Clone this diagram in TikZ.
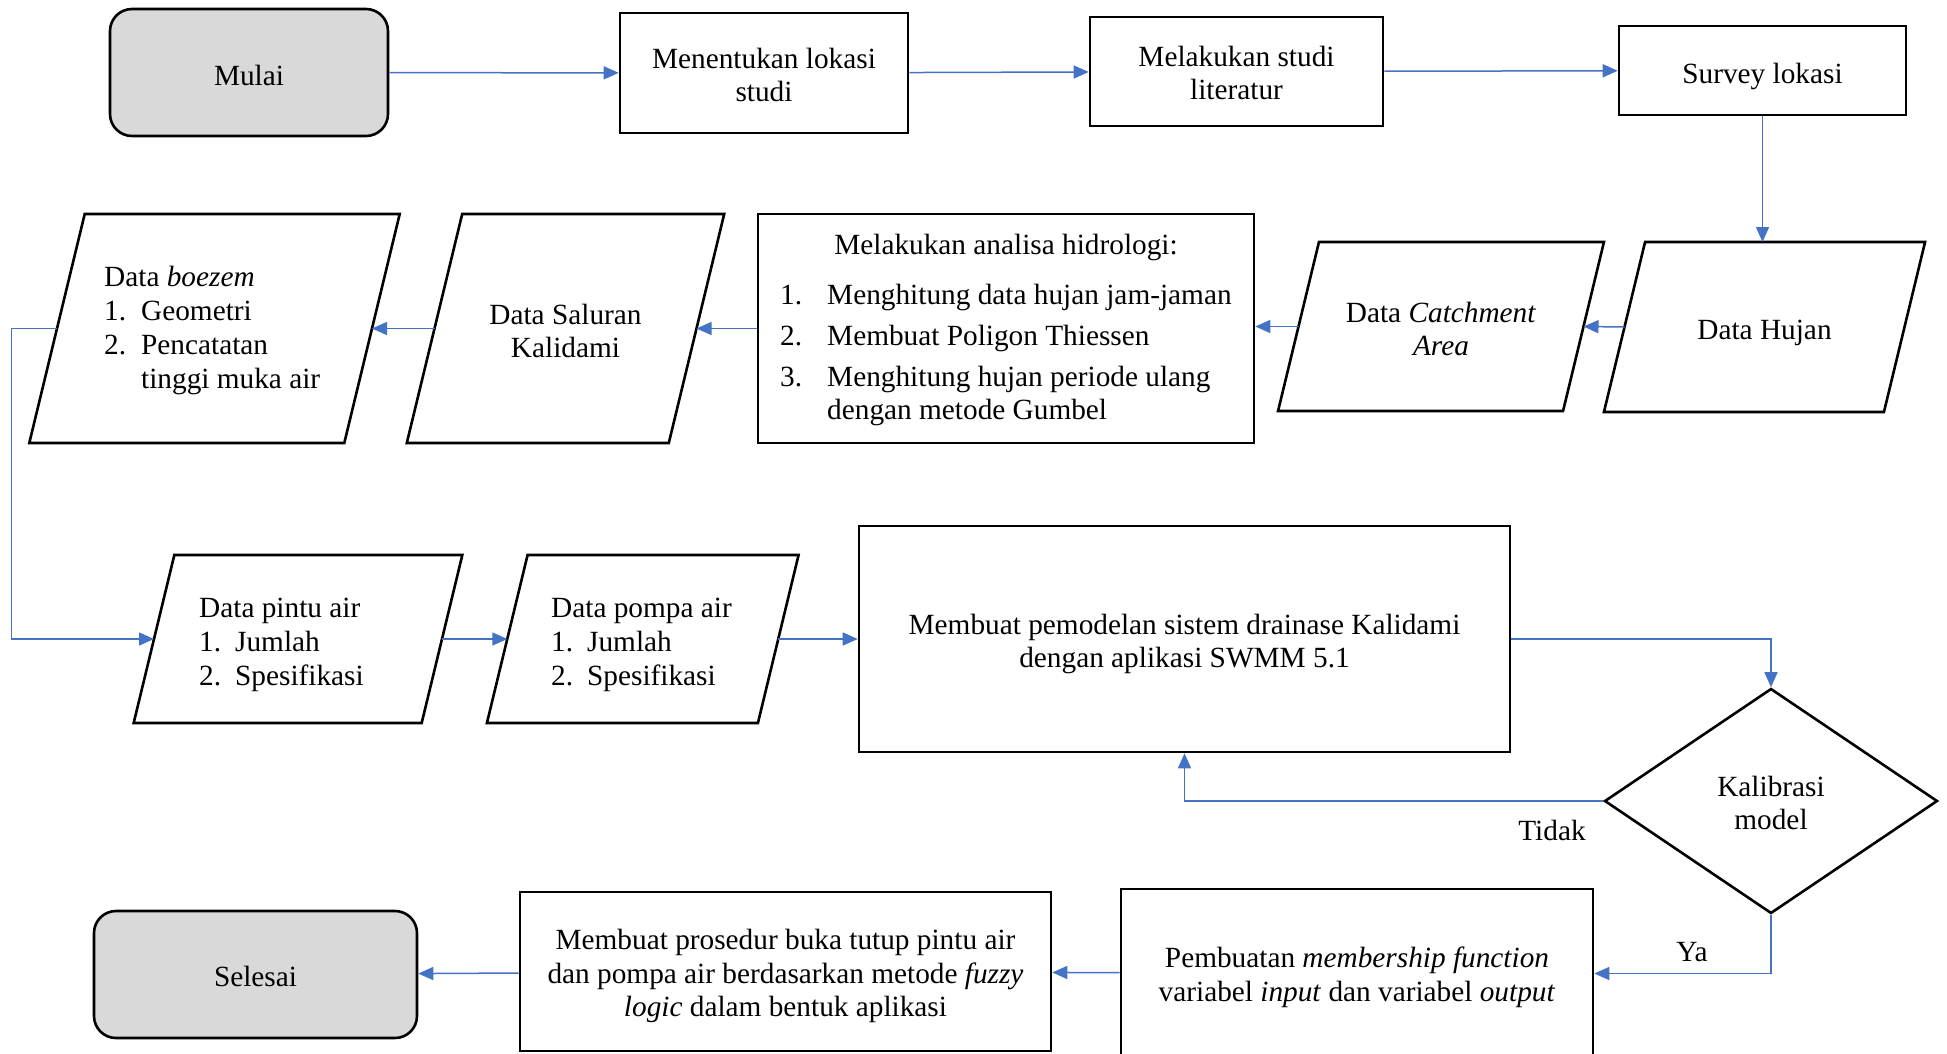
\documentclass[tikz,border=0pt]{standalone}
\usepackage{fontspec}
\setmainfont{Liberation Serif}
\usetikzlibrary{shapes.geometric,arrows.meta,calc}
\definecolor{arrblue}{HTML}{4472C4}
\definecolor{termgray}{HTML}{D9D9D9}
% parallelogram: name, cx, cy, side width, height
\newcommand\pgram[5]{%
  \draw[boxline] (#2-#4/2+0.121*#5,#3-#5/2) -- (#2+#4/2+0.121*#5,#3-#5/2)
     -- (#2+#4/2-0.121*#5,#3+#5/2) -- (#2-#4/2-0.121*#5,#3+#5/2) -- cycle;
  \coordinate (#1-w) at (#2-#4/2,#3);
  \coordinate (#1-e) at (#2+#4/2,#3);
  \coordinate (#1-n) at (#2+0.121*#5,#3-#5/2);
}
\begin{document}
\begin{tikzpicture}[x=1pt,y=-1pt,
  font=\fontsize{29.3}{33.7}\selectfont,
  boxline/.style={draw=black,line width=2.6pt,line join=miter},
  rbox/.style={boxline,rectangle,inner sep=0pt},
  term/.style={boxline,fill=termgray,rounded corners=22pt,inner sep=0pt},
  txt/.style={inner sep=0pt,align=center},
  ltxt/.style={inner sep=0pt,align=left,anchor=west},
  arr/.style={draw=arrblue,line width=1.5pt,-{Triangle[length=15pt,width=13pt]}},
]
\useasboundingbox (0,0) rectangle (1947,1053);
\clip (0,0) rectangle (1947,1053);

% row 1
\node[term,minimum width=278pt,minimum height=127pt] (mulai) at (249,72.5) {};
\node[txt] (mulaiT) at (249,75) {Mulai};
\node[rbox,minimum width=288pt,minimum height=120pt] (men) at (764,73) {};
\node[txt] (menT) at (764,75) {Menentukan lokasi\\studi};
\node[rbox,minimum width=293pt,minimum height=109pt] (lit) at (1236.5,71.5) {};
\node[txt] (litT) at (1236.5,73) {Melakukan studi\\literatur};
\node[rbox,minimum width=287pt,minimum height=89pt] (surv) at (1762.5,70.5) {};
\node[txt] (survT) at (1762.5,76.5) {Survey lokasi};

% row 2
\pgram{hujan}{1764.5}{327}{280}{170}
\node[txt] (hujanT) at (1764.5,333) {Data Hujan};
\pgram{catch}{1441}{326.5}{285}{169}
\node[txt] (catchT) at (1441,329) {Data \textit{Catchment}\\\textit{Area}};
\node[rbox,minimum width=496pt,minimum height=229pt] (ana) at (1006,328.5) {};
\node[txt] (anaT) at (1006,247) {Melakukan analisa hidrologi:};
\node[ltxt] (anaL) at (780,355) {\makebox[47pt][l]{1.}Menghitung data hujan jam-jaman\\[7.3pt]\makebox[47pt][l]{2.}Membuat Poligon Thiessen\\[7.3pt]\makebox[47pt][l]{3.}Menghitung hujan periode ulang\\\hspace*{47pt}dengan metode Gumbel};
\pgram{sal}{565.5}{328.5}{262}{229}
\node[txt] (salT) at (565.5,331) {Data Saluran\\Kalidami};
\pgram{boe}{214.5}{328.5}{315}{229}
\node[ltxt] (boeT) at (104,330.5) {Data \textit{boezem}\\\makebox[37pt][l]{1.}Geometri\\\makebox[37pt][l]{2.}Pencatatan\\\hspace*{37pt}tinggi muka air};

% row 3
\pgram{pin}{298}{639}{288}{168}
\node[ltxt] (pinT) at (199,645) {Data pintu air\\\makebox[36pt][l]{1.}Jumlah\\\makebox[36pt][l]{2.}Spesifikasi};
\pgram{pom}{642.75}{639}{271}{168}
\node[ltxt] (pomT) at (551,645) {Data pompa air\\\makebox[36pt][l]{1.}Jumlah\\\makebox[36pt][l]{2.}Spesifikasi};
\node[rbox,minimum width=651pt,minimum height=226pt] (mod) at (1184.5,639) {};
\node[txt] (modT) at (1184.5,644) {Membuat pemodelan sistem drainase Kalidami\\dengan aplikasi SWMM 5.1};
\node[diamond,boxline,minimum width=333pt,minimum height=225pt,inner sep=0pt] (kal) at (1771,801) {};
\node[txt] (kalT) at (1771,803) {Kalibrasi\\model};

% row 4
\node[rbox,minimum width=472pt,minimum height=169pt] (pem) at (1357,973.5) {};
\node[txt] (pemT) at (1357,977) {Pembuatan \textit{membership function}\\variabel \textit{input} dan variabel \textit{output}};
\node[rbox,minimum width=531pt,minimum height=159pt] (pro) at (785.5,971.5) {};
\node[txt] (proT) at (785.5,976) {Membuat prosedur buka tutup pintu air\\dan pompa air berdasarkan metode \textit{fuzzy}\\\textit{logic} dalam bentuk aplikasi};
\node[term,minimum width=323pt,minimum height=127pt] (sel) at (255.5,974.5) {};
\node[txt] (selT) at (255.5,976) {Selesai};

\node[txt] (tidak) at (1552,830) {Tidak};
\node[txt] (ya) at (1692,952) {Ya};
\coordinate (lx) at (11.5,480);

% connectors
\draw[arr] (mulai) -- (men);
\draw[arr] (men) -- (lit);
\draw[arr] (lit) -- (surv);
\draw[arr] (surv.south) -- (surv.south |- hujan-n);
\draw[arr] (hujan-w) -- (catch-e);
\draw[arr] (catch-w) -- (catch-w -| ana.east);
\draw[arr] (ana.west) -- (sal-e);
\draw[arr] (sal-w) -- (boe-e);
\draw[arr] (boe-w) -| (lx) |- (pin-w);
\draw[arr] (pin-e) -- (pom-w);
\draw[arr] (pom-e) -- (mod.west);
\draw[arr] (mod.east) -| (kal.north);
\draw[arr] (kal.west) -| (mod.south);
\draw[arr] (kal.south) |- (pem.east);
\draw[arr] (pem) -- (pro);
\draw[arr] (pro) -- (sel);
\end{tikzpicture}
\end{document}
